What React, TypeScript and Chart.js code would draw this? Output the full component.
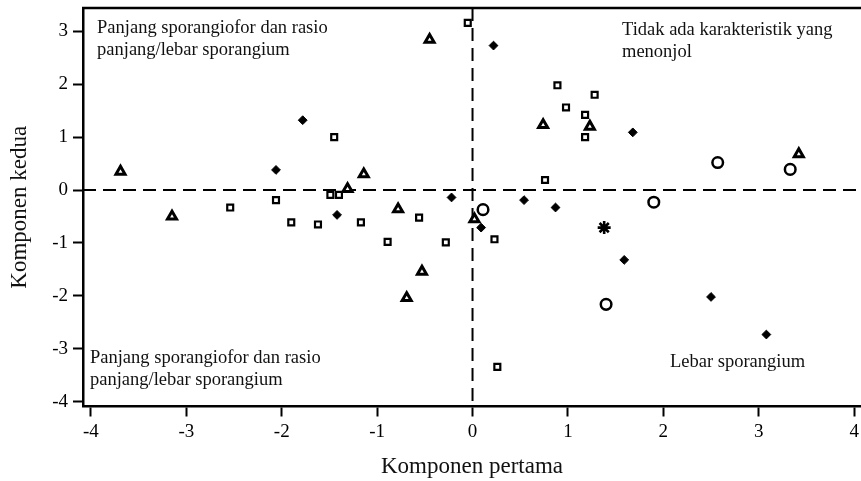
import { useEffect, useRef } from "react";
import { Chart, registerables, type ChartConfiguration, type Plugin } from "chart.js";

Chart.register(...registerables);

// point groups (x = Komponen pertama, y = Komponen kedua)
const triangles: [number, number][] = [
  [-3.69, 0.35], [-3.15, -0.5], [-1.31, 0.02], [-1.14, 0.3], [-0.78, -0.36],
  [-0.45, 2.84], [0.02, -0.55], [-0.53, -1.54], [-0.69, -2.04], [0.74, 1.23],
  [1.23, 1.2], [3.42, 0.68],
];

const diamonds: [number, number][] = [
  [-2.06, 0.38], [-1.78, 1.32], [-1.42, -0.47], [-0.22, -0.14], [0.22, 2.73],
  [0.09, -0.71], [0.54, -0.19], [0.87, -0.33], [1.68, 1.09], [1.59, -1.32],
  [2.5, -2.02], [3.08, -2.73],
];

const squares: [number, number][] = [
  [-2.54, -0.33], [-2.06, -0.19], [-1.9, -0.61], [-1.62, -0.65], [-1.45, 1.0],
  [-1.49, -0.09], [-1.4, -0.09], [-1.17, -0.61], [-0.89, -0.98], [-0.56, -0.52],
  [-0.28, -0.99], [-0.05, 3.16], [0.89, 1.98], [1.28, 1.8], [0.98, 1.56],
  [1.18, 1.42], [1.18, 1.0], [0.76, 0.19], [0.23, -0.93], [0.26, -3.34],
];

const circles: [number, number][] = [
  [2.57, 0.52], [3.33, 0.39], [0.11, -0.37], [1.9, -0.23], [1.4, -2.16],
];

const stars: [number, number][] = [[1.38, -0.71]];

const xTicks = [-4, -3, -2, -1, 0, 1, 2, 3, 4];
const yTicks = [-4, -3, -2, -1, 0, 1, 2, 3];

const notes = [
  { x: -3.936, y: 3.06, lines: ["Panjang sporangiofor dan rasio", "panjang/lebar sporangium"] },
  { x: 1.567, y: 3.02, lines: ["Tidak ada karakteristik yang", "menonjol"] },
  { x: -4.01, y: -3.18, lines: ["Panjang sporangiofor dan rasio", "panjang/lebar sporangium"] },
  { x: 2.07, y: -3.25, lines: ["Lebar sporangium"] },
];

const serif = "'Liberation Serif', 'Times New Roman', serif";

const toPoints = (list: [number, number][]) => list.map(([x, y]) => ({ x, y }));

const overlay: Plugin<"scatter"> = {
  id: "overlay",
  beforeDatasetsDraw(chart) {
    const { ctx, chartArea, scales } = chart;
    const x0 = scales.x.getPixelForValue(0);
    const y0 = scales.y.getPixelForValue(0);
    ctx.save();
    ctx.strokeStyle = "#000";
    ctx.lineWidth = 2;
    ctx.setLineDash([13, 7]);
    ctx.beginPath();
    ctx.moveTo(chartArea.left, y0);
    ctx.lineTo(chartArea.right, y0);
    ctx.moveTo(x0, chartArea.top);
    ctx.lineTo(x0, chartArea.bottom);
    ctx.stroke();
    ctx.setLineDash([]);

    // frame top line
    ctx.lineWidth = 2.5;
    ctx.beginPath();
    ctx.moveTo(chartArea.left - 1, chartArea.top);
    ctx.lineTo(chartArea.right, chartArea.top);
    ctx.stroke();

    ctx.font = `18.5px ${serif}`;
    ctx.fillStyle = "#111";
    ctx.textBaseline = "middle";
    ctx.textAlign = "left";
    notes.forEach((note) => {
      const px = scales.x.getPixelForValue(note.x);
      const py = scales.y.getPixelForValue(note.y);
      note.lines.forEach((line, i) => ctx.fillText(line, px, py + i * 22));
    });
    ctx.restore();
  },
};

export default function App() {
  const canvasRef = useRef<HTMLCanvasElement>(null);

  useEffect(() => {
    if (!canvasRef.current) return;

    const base = { showLine: false, pointBorderColor: "#000" };

    const config: ChartConfiguration<"scatter"> = {
      type: "scatter",
      data: {
        datasets: [
          {
            ...base,
            label: "triangle",
            data: toPoints(triangles),
            pointStyle: "triangle",
            pointRadius: 5.2,
            pointBorderWidth: 3,
            pointBackgroundColor: "#fff",
          },
          {
            ...base,
            label: "diamond",
            data: toPoints(diamonds),
            pointStyle: "rectRot",
            pointRadius: 4.4,
            pointBorderWidth: 1,
            pointBackgroundColor: "#000",
          },
          {
            ...base,
            label: "square",
            data: toPoints(squares),
            pointStyle: "rect",
            pointRadius: 4.2,
            pointBorderWidth: 2.2,
            pointBackgroundColor: "#fff",
          },
          {
            ...base,
            label: "circle",
            data: toPoints(circles),
            pointStyle: "circle",
            pointRadius: 5.3,
            pointBorderWidth: 2.5,
            pointBackgroundColor: "#fff",
          },
          {
            ...base,
            label: "star",
            data: toPoints(stars),
            pointStyle: "star",
            pointRadius: 6.5,
            pointBorderWidth: 2.6,
          },
        ],
      },
      options: {
        animation: false,
        responsive: true,
        maintainAspectRatio: false,
        layout: { autoPadding: false, padding: { top: 8, right: 0, bottom: 0, left: 0 } },
        plugins: {
          legend: { display: false },
          tooltip: { enabled: false },
        },
        scales: {
          x: {
            type: "linear",
            min: -4.083,
            max: 4.072,
            afterBuildTicks: (scale) => {
              scale.ticks = xTicks.map((value) => ({ value }));
            },
            afterFit: (scale) => {
              scale.height = 74.5;
              scale.paddingLeft = 0;
              scale.paddingRight = 0;
            },
            grid: {
              drawOnChartArea: false,
              drawTicks: true,
              tickLength: 10,
              tickWidth: 2,
              tickColor: "#000",
            },
            border: { display: true, color: "#000", width: 2.5 },
            ticks: {
              color: "#000",
              padding: 4,
              font: { family: serif, size: 19 },
              callback: (v) => String(v),
            },
            title: {
              display: true,
              text: "Komponen pertama",
              color: "#111",
              font: { family: serif, size: 23 },
              padding: { top: 0, bottom: 0 },
            },
          },
          y: {
            type: "linear",
            min: -4.09,
            max: 3.44,
            afterBuildTicks: (scale) => {
              scale.ticks = yTicks.map((value) => ({ value }));
            },
            afterFit: (scale) => {
              scale.width = 83;
              scale.paddingTop = 0;
              scale.paddingBottom = 0;
            },
            grid: {
              drawOnChartArea: false,
              drawTicks: true,
              tickLength: 10,
              tickWidth: 2,
              tickColor: "#000",
            },
            border: { display: true, color: "#000", width: 2.5 },
            ticks: {
              color: "#000",
              padding: 5,
              font: { family: serif, size: 19 },
              callback: (v) => String(v),
            },
            title: {
              display: true,
              text: "Komponen kedua",
              color: "#111",
              font: { family: serif, size: 23 },
              padding: { top: 6, bottom: 0 },
            },
          },
        },
      },
      plugins: [overlay],
    };

    const chart = new Chart(canvasRef.current, config);
    return () => chart.destroy();
  }, []);

  return (
    <div
      style={{
        position: "fixed",
        left: 0,
        top: 0,
        width: 861,
        height: 481,
        background: "#fff",
      }}
    >
      <canvas ref={canvasRef} role="img" aria-label="Diagram komponen utama" />
    </div>
  );
}
